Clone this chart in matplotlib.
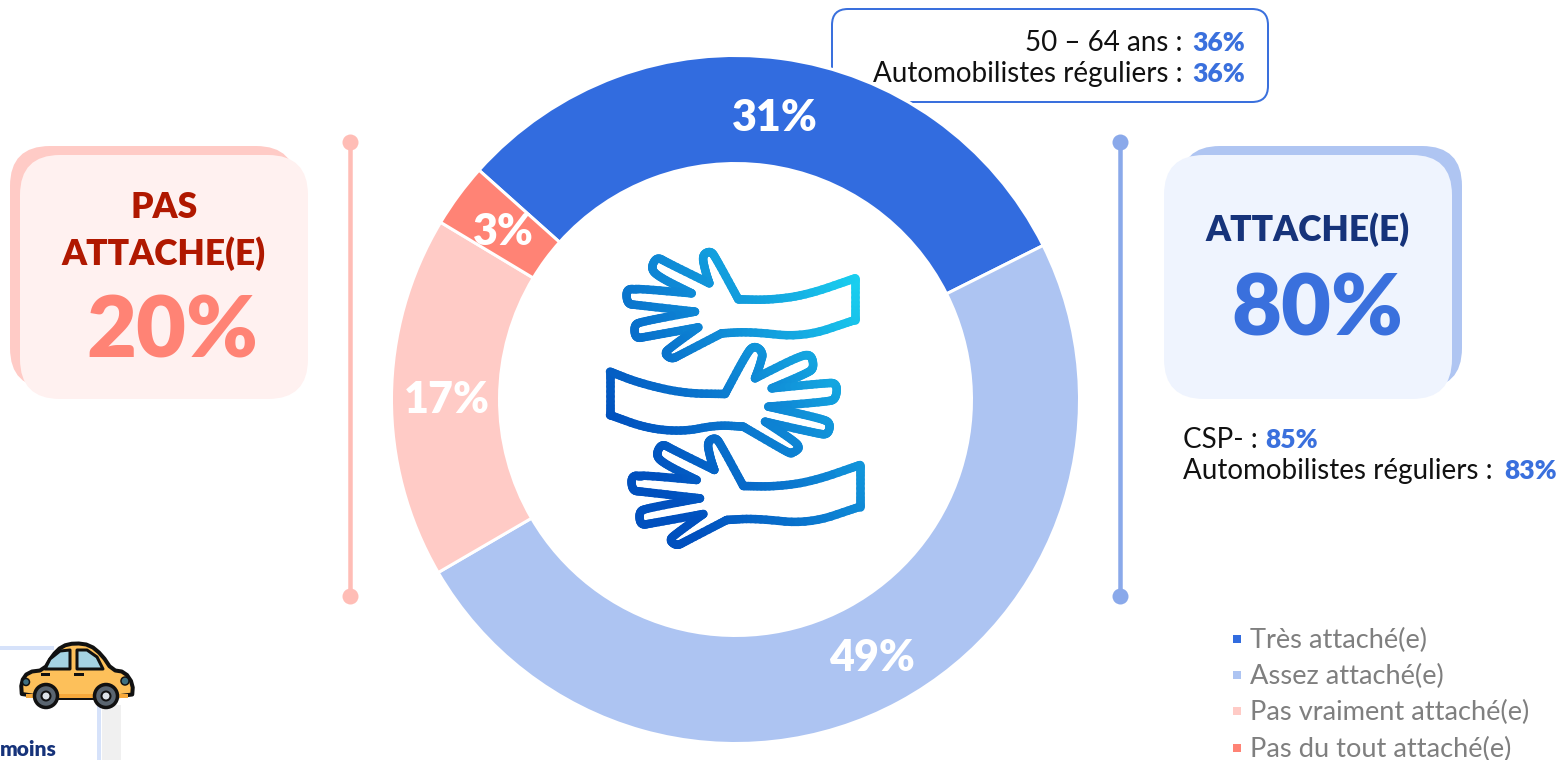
import numpy as np
import matplotlib
matplotlib.use('Agg')
import matplotlib.pyplot as plt
from matplotlib.collections import LineCollection
from matplotlib.colors import LinearSegmentedColormap
from matplotlib.patches import FancyBboxPatch, Polygon, Circle, Rectangle

plt.rcParams['font.family'] = ['Lato', 'DejaVu Sans']

# Data
categories = ['Très attaché(e)', 'Assez attaché(e)', 'Pas vraiment attaché(e)', 'Pas du tout attaché(e)']
values = [31, 49, 17, 3]
colors = ['#326CDF', '#ADC4F2', '#FFCBC6', '#FF8375']
attached_total = 80
not_attached_total = 20
top_notes = [('50 – 64 ans : ', 36), ('Automobilistes réguliers : ', 36)]
side_notes = [('CSP- : ', 85), ('Automobilistes réguliers : ', 83)]

W, H = 1560, 760
fig = plt.figure(figsize=(W / 100, H / 100), dpi=100)
ax = fig.add_axes([0, 0, 1, 1])
BOLD = 'heavy'


# y is measured from the top of the picture
def Y(y):
    return H - y


def px(n):
    return n * 72 / 100


def card(x0, y0, x1, y1, color, r=40, z=2):
    ax.add_patch(FancyBboxPatch((x0, Y(y1)), x1 - x0, y1 - y0, boxstyle=f'round,pad=0,rounding_size={r}',
                                fc=color, ec='none', zorder=z))


def smooth(pts, n=2):
    pts = np.array(pts, dtype=float)
    for _ in range(n):
        nxt = np.roll(pts, -1, axis=0)
        pts = np.column_stack([0.75 * pts + 0.25 * nxt, 0.25 * pts + 0.75 * nxt]).reshape(-1, 2)
    return pts


# Donut
wedges, _ = ax.pie(values, colors=colors, startangle=138.2, counterclock=False, radius=344,
                   center=(735.5, Y(399.5)), frame=True,
                   wedgeprops=dict(width=108, edgecolor='white', linewidth=px(3)))
for w in wedges:
    w.set_zorder(3)
ax.set_xlim(0, W)
ax.set_ylim(0, H)
ax.set_aspect('equal')
ax.axis('off')

label_pos = [(775, 118), (872, 658), (447, 400), (503, 232)]
for v, (x, y) in zip(values, label_pos):
    ax.text(x, Y(y), f'{v}%', color='white', fontsize=31, fontweight=BOLD, ha='center', va='center', zorder=5)

# Callout above the donut
card(832, 9, 1268, 102, 'white', r=16, z=1)
ax.patches[-1].set(edgecolor='#3A70DD', linewidth=px(2))
for (lab, v), y in zip(top_notes, [43, 74]):
    ax.text(1190, Y(y), lab, color='#111111', fontsize=20, ha='right', va='center', zorder=6)
    ax.text(1192, Y(y), f'{v}%', color='#3A70DD', fontsize=19, fontweight=BOLD, ha='left', va='center', zorder=6)

# Left card
card(10, 146, 296, 388, '#FFCBC6')
card(20, 155, 308, 399, '#FFF1F0', z=2.5)
ax.text(164, Y(207), 'PAS', color='#B01800', fontsize=25.5, fontweight=BOLD, ha='center', va='center', zorder=4)
ax.text(164, Y(254), 'ATTACHE(E)', color='#B01800', fontsize=25.5, fontweight=BOLD, ha='center', va='center', zorder=4)
ax.text(172, Y(332), f'{not_attached_total}%', color='#FF8375', fontsize=62, fontweight=BOLD,
        ha='center', va='center', zorder=4)

# Right card
card(1180, 146, 1462, 388, '#AFC5F2')
card(1164, 155, 1452, 399, '#EFF4FE', z=2.5)
ax.text(1308, Y(230), 'ATTACHE(E)', color='#16337A', fontsize=25.5, fontweight=BOLD, ha='center', va='center', zorder=4)
ax.text(1317, Y(310), f'{attached_total}%', color='#3A70DD', fontsize=62, fontweight=BOLD,
        ha='center', va='center', zorder=4)

for (lab, v), y, xv in zip(side_notes, [440, 471], [1265, 1504]):
    ax.text(1183, Y(y), lab, color='#111111', fontsize=20, ha='left', va='center', zorder=4)
    ax.text(xv, Y(y), f'{v}%', color='#3A70DD', fontsize=19, fontweight=BOLD, ha='left', va='center', zorder=4)

# Vertical rules
for x, c in [(350, '#FFBDB6'), (1120, '#8AA9EA')]:
    ax.plot([x, x], [Y(142), Y(596)], color=c, lw=px(4.5), marker='o', ms=px(16), mec='none', zorder=2)

# Legend
for cat, c, y in zip(categories, colors, [639, 675, 711, 748]):
    ax.add_patch(Rectangle((1233, Y(y) - 4), 8, 8, fc=c, ec='none', zorder=4))
    ax.text(1250, Y(y + 1), cat, color='#7F7F7F', fontsize=19.6, ha='left', va='center', zorder=4)

# Hands icon, outlines in zoomed icon units; the repeated points keep the valleys sharp
hand_top = [(795, 115), (650, 165), (540, 180), (445, 178), (445, 178), (445, 178), (378, 55), (362, 32), (336, 45), (345, 90), (358, 130), (358, 130), (358, 130),
            (232, 68), (200, 50), (182, 85), (205, 110), (305, 160), (305, 160), (305, 160), (135, 145), (108, 150), (112, 192), (140, 195), (315, 215), (315, 215), (315, 215),
            (155, 245), (132, 255), (136, 296), (170, 290), (325, 262), (325, 262), (325, 262), (245, 320), (222, 340), (245, 358), (270, 345), (395, 280), (395, 280),
            (480, 275), (640, 292), (795, 240), (795, 240), (795, 240), (795, 115), (795, 115), (795, 115)]
hand_mid = [(60, 395), (150, 430), (280, 460), (405, 462), (405, 462), (405, 462), (465, 350), (490, 315), (520, 335), (510, 375), (495, 415), (495, 415), (495, 415),
            (635, 345), (665, 345), (672, 385), (650, 400), (545, 445), (545, 445), (545, 445), (700, 430), (742, 428), (738, 478), (710, 485), (535, 500), (535, 500), (535, 500),
            (690, 535), (722, 548), (714, 585), (680, 580), (525, 545), (525, 545), (525, 545), (605, 598), (632, 622), (605, 642), (580, 630), (460, 560), (460, 560),
            (380, 555), (280, 575), (170, 565), (60, 525), (60, 525), (60, 525), (60, 395), (60, 395), (60, 395)]
hand_low = [(x + 15, y + 560) for x, y in hand_top]
cmap = LinearSegmentedColormap.from_list('hands', ['#0050BE', '#0F8AD6', '#1AD1F0'])
for hand in [hand_top, hand_mid, hand_low]:
    p = smooth(hand, 3)
    p = np.vstack([p, p[:1]])
    xs = 590 + p[:, 0] / 3
    ys = 240 + p[:, 1] / 3
    xy = np.column_stack([xs, Y(ys)])
    segs = np.stack([xy[:-1], xy[1:]], axis=1)
    mx = (xs[:-1] + xs[1:]) / 2
    my = (ys[:-1] + ys[1:]) / 2
    g = ((mx - 630) / 230 + (530 - my) / 280) / 2
    lc = LineCollection(segs, cmap=cmap, norm=plt.Normalize(0.15, 0.95), linewidths=px(8.5), capstyle='round', zorder=5)
    lc.set_array(g)
    ax.add_collection(lc)

# Car and the cut-off block under it
ax.plot([0, 52], [Y(648), Y(648)], color='#D6E2FA', lw=px(4), zorder=1)
ax.add_patch(Rectangle((102, 0), 19, Y(705), fc='#F0F0F0', ec='none', zorder=1))
ax.add_patch(Rectangle((97, 0), 4, Y(700), fc='#D6E2FA', ec='none', zorder=1))
ax.text(57, Y(750), 'moins', color='#16337A', fontsize=15, fontweight=BOLD, ha='right', va='center', zorder=2)

body = [(22, 698), (21, 682), (28, 672), (44, 670), (52, 656), (62, 646), (75, 643), (90, 645), (102, 655), (112, 670), (125, 672),
        (133, 684), (132, 698)]
sb = smooth(body, 1)
ax.add_patch(Polygon(np.column_stack([sb[:, 0], Y(sb[:, 1])]), fc='#FDC05A', ec='#111111', lw=px(4), joinstyle='round', zorder=6))
ax.add_patch(Rectangle((26, Y(698)), 102, 4, fc='#F7A93B', ec='none', zorder=6.1))
for win in [[(45, 669), (70, 669), (70, 650), (60, 651), (50, 659)], [(77, 650), (77, 669), (103, 669), (97, 657), (87, 650)]]:
    ax.add_patch(Polygon([(x, Y(y)) for x, y in win], fc='#A5D3E3', ec='#111111', lw=px(3), joinstyle='round', zorder=6.2))
for x in [46, 106]:
    ax.add_patch(Circle((x, Y(696)), 11.5, fc='#5A6570', ec='#111111', lw=px(3.5), zorder=6.3))
    ax.add_patch(Circle((x, Y(696)), 4.5, fc='#DDE3E8', ec='#111111', lw=px(2), zorder=6.4))
ax.add_patch(Circle((26, Y(682)), 3.5, fc='#3F6F80', ec='#111111', lw=px(1.5), zorder=6.3))
ax.add_patch(Circle((125, Y(681)), 4, fc='#3F6F80', ec='#111111', lw=px(1.5), zorder=6.3))
ax.plot([42, 48], [Y(674), Y(674)], color='#111111', lw=px(3), zorder=6.3)
ax.plot([75, 82], [Y(674), Y(674)], color='#111111', lw=px(3), zorder=6.3)

fig.savefig('out.png', dpi=100)
